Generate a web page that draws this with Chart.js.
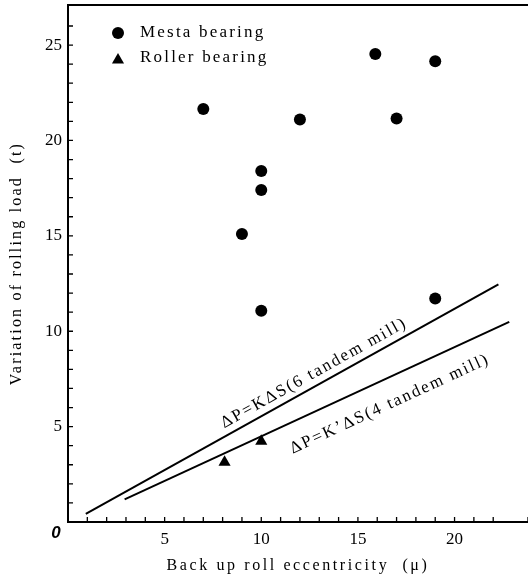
<!DOCTYPE html>
<html>
<head>
<meta charset="utf-8">
<script src="https://cdn.jsdelivr.net/npm/chart.js@4/dist/chart.umd.min.js"></script>
<style>
  html, body { margin: 0; padding: 0; background: #fff; }
  #wrap { width: 528px; height: 581px; position: relative; }
</style>
</head>
<body>
<div id="wrap"><canvas id="c"></canvas></div>
<script>
// data
var mestaX = [7, 9, 10, 10, 10, 12, 15.9, 17, 19, 19];
var mestaY = [21.65, 15.1, 18.4, 17.4, 11.07, 21.1, 24.53, 21.15, 24.15, 11.72];
var rollerX = [8.1, 10.0];
var rollerY = [3.13, 4.23];

// the two fitted lines (end points)
var line6X = [0.92, 22.27];
var line6Y = [0.42, 12.46];
var line4X = [2.93, 22.83];
var line4Y = [1.19, 10.49];

var legendLabels = ['Mesta bearing', 'Roller bearing'];
var lineLabels = ['\u0394P=K\u0394S(6 tandem mill)', '\u0394P=K\u2019\u0394S(4 tandem mill)'];
// baseline centre of each line label, in data units
var lineLabelX = [12.84, 16.75];
var lineLabelY = [7.6, 5.97];

var xTitle = 'Back up roll eccentricity  (\u03bc)';
var yTitle = 'Variation of rolling load  (t)';

var X_MAX = 23.8, Y_MAX = 27.1;

function pts(xs, ys) {
    var out = [];
    for (var i = 0; i < xs.length; i++) out.push({ x: xs[i], y: ys[i] });
    return out;
}

var SERIF = '"Liberation Serif", "DejaVu Serif", serif';

function noPad(s) {
    s.paddingTop = 0; s.paddingBottom = 0; s.paddingLeft = 0; s.paddingRight = 0;
}

var extras = {
    id: 'extras',
    afterDraw: function (chart) {
        var ctx = chart.ctx, a = chart.chartArea;
        var sx = chart.scales.x, sy = chart.scales.y;
        ctx.save();
        ctx.strokeStyle = '#000';
        ctx.fillStyle = '#000';

        // top frame line
        ctx.lineWidth = 2;
        ctx.beginPath();
        ctx.moveTo(a.left - 1, a.top);
        ctx.lineTo(a.right, a.top);
        ctx.stroke();

        // inward tick marks
        ctx.lineWidth = 1.3;
        ctx.beginPath();
        sy.ticks.forEach(function (t) {
            if (t.value <= 0) return;
            var py = sy.getPixelForValue(t.value);
            ctx.moveTo(a.left, py);
            ctx.lineTo(a.left + 5, py);
        });
        sx.ticks.forEach(function (t) {
            if (t.value <= 0) return;
            var px = sx.getPixelForValue(t.value);
            ctx.moveTo(px, a.bottom);
            ctx.lineTo(px, a.bottom - 5);
        });
        ctx.stroke();

        // origin label
        ctx.font = 'italic bold 17px "Liberation Sans", sans-serif';
        ctx.textAlign = 'center';
        ctx.textBaseline = 'middle';
        ctx.fillText('0', a.left - 12, a.bottom + 11);

        // axis titles
        ctx.font = '16px ' + SERIF;
        ctx.letterSpacing = '2.6px';
        ctx.fillText(xTitle, (a.left + a.right) / 2, a.bottom + 44);
        ctx.letterSpacing = '2.2px';
        ctx.save();
        ctx.translate(17, (a.top + a.bottom) / 2);
        ctx.rotate(-Math.PI / 2);
        ctx.fillText(yTitle, 0, 0);
        ctx.restore();

        // legend inside plot
        var lx = a.left + 50, ly = [a.top + 28, a.top + 53];
        ctx.textAlign = 'left';
        ctx.font = '17px ' + SERIF;
        ctx.letterSpacing = '2.2px';
        for (var i = 0; i < legendLabels.length; i++) {
            var ds = chart.data.datasets[i];
            Chart.helpers.drawPoint(ctx, {
                pointStyle: ds.pointStyle, radius: ds.pointRadius, rotation: 0, borderWidth: 0
            }, lx, ly[i] + (i === 1 ? 2 : 0));
            ctx.fillText(legendLabels[i], lx + 22, ly[i]);
        }

        // labels along the two lines
        var lines = [[line6X, line6Y], [line4X, line4Y]];
        ctx.font = '17px ' + SERIF;
        ctx.letterSpacing = '2px';
        ctx.textAlign = 'center';
        ctx.textBaseline = 'alphabetic';
        for (var j = 0; j < lines.length; j++) {
            var L = lines[j];
            var x0 = sx.getPixelForValue(L[0][0]), y0 = sy.getPixelForValue(L[1][0]);
            var x1 = sx.getPixelForValue(L[0][1]), y1 = sy.getPixelForValue(L[1][1]);
            var ang = Math.atan2(y1 - y0, x1 - x0);
            ctx.save();
            ctx.translate(sx.getPixelForValue(lineLabelX[j]), sy.getPixelForValue(lineLabelY[j]));
            ctx.rotate(ang);
            ctx.fillText(lineLabels[j], 0, 0);
            ctx.restore();
        }
        ctx.restore();
    }
};

new Chart(document.getElementById('c'), {
    type: 'scatter',
    data: {
        datasets: [
            { label: legendLabels[0], data: pts(mestaX, mestaY), pointStyle: 'circle', pointRadius: 6,
              backgroundColor: '#000', borderColor: '#000', borderWidth: 0 },
            { label: legendLabels[1], data: pts(rollerX, rollerY), pointStyle: 'triangle', pointRadius: 7,
              backgroundColor: '#000', borderColor: '#000', borderWidth: 0 },
            { label: lineLabels[0], data: pts(line6X, line6Y), showLine: true, pointRadius: 0,
              borderColor: '#000', borderWidth: 2, fill: false },
            { label: lineLabels[1], data: pts(line4X, line4Y), showLine: true, pointRadius: 0,
              borderColor: '#000', borderWidth: 2, fill: false }
        ]
    },
    options: {
        responsive: true, maintainAspectRatio: false, animation: false,
        layout: { autoPadding: false, padding: { top: 5, right: 0, left: 0, bottom: 0 } },
        plugins: { legend: { display: false }, tooltip: { enabled: false } },
        scales: {
            x: {
                type: 'linear', min: 0, max: X_MAX,
                grid: { display: false, drawTicks: false },
                border: { display: true, color: '#000', width: 2 },
                ticks: {
                    stepSize: 1, autoSkip: false, maxRotation: 0, padding: 7, color: '#000',
                    font: { family: SERIF, size: 17 },
                    callback: function (v) { return (v > 0 && v % 5 === 0) ? String(v) : ''; }
                },
                afterFit: function (s) { s.height = 59; noPad(s); }
            },
            y: {
                type: 'linear', min: 0, max: Y_MAX,
                grid: { display: false, drawTicks: false },
                border: { display: true, color: '#000', width: 2 },
                ticks: {
                    stepSize: 1, autoSkip: false, padding: 6, color: '#000',
                    font: { family: SERIF, size: 17 },
                    callback: function (v) { return (v > 0 && v % 5 === 0) ? String(v) : ''; }
                },
                afterFit: function (s) { s.width = 68; noPad(s); }
            }
        }
    },
    plugins: [extras]
});
</script>
</body>
</html>
